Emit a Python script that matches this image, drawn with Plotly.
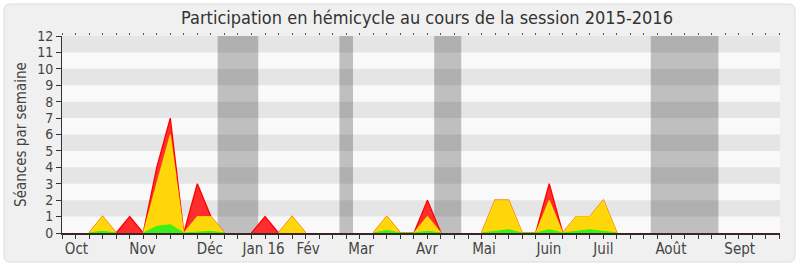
import plotly.graph_objects as go

# ---- data (weekly, session 2015-2016) ----
weeks = list(range(54))
total = [0, 0, 0, 1, 0, 1, 0, 4, 7, 0, 3, 1, 0, 0, 0, 1, 0, 1, 0, 0,
         0, 0, 0, 0, 1, 0, 0, 2, 0, 0, 0, 0, 2, 2, 0, 0, 3, 0, 1, 1,
         2, 0, 0, 0, 0, 0, 0, 0, 0, 0, 0, 0, 0, 0]
yellow = [0, 0, 0, 1, 0, 0, 0, 3, 6, 0, 1, 1, 0, 0, 0, 0, 0, 1, 0, 0,
          0, 0, 0, 0, 1, 0, 0, 1, 0, 0, 0, 0, 2, 2, 0, 0, 2, 0, 1, 1,
          2, 0, 0, 0, 0, 0, 0, 0, 0, 0, 0, 0, 0, 0]
green = [0, 0, 0, 0.1, 0, 0, 0, 0.4, 0.5, 0, 0.05, 0.1, 0, 0, 0, 0, 0, 0, 0, 0,
         0, 0, 0, 0, 0.15, 0, 0, 0.1, 0, 0, 0, 0, 0.12, 0.2, 0, 0, 0.2, 0, 0.1, 0.2,
         0.1, 0, 0, 0, 0, 0, 0, 0, 0, 0, 0, 0, 0, 0]
month_labels = ["Oct", "Nov", "Déc", "Jan 16", "Fév", "Mar", "Avr", "Mai",
                "Juin", "Juil", "Août", "Sept"]
month_pos = [1.07, 5.95, 10.93, 14.89, 18.18, 22.09, 26.97, 31.18,
             35.98, 40.0, 44.99, 50.07]
vacations = [(11.5, 14.5), (20.5, 21.5), (27.5, 29.5), (43.5, 48.5)]
y_ticks = list(range(13))

FONT = "DejaVu Sans Condensed, DejaVu Sans, sans-serif"
W, H = 800, 267
ML, MR, MT, MB = 62, 20, 36, 34
PW, PH = W - ML - MR, H - MT - MB
XMAX = 53.05


def gapped(vals):
    """Keep only the stretches around non-zero weeks (so flat zero runs don't paint the baseline)."""
    n = len(vals)
    out = []
    for i, v in enumerate(vals):
        near = any(vals[j] for j in range(max(0, i - 1), min(n, i + 2)))
        out.append(v if near else None)
    return out


def px_to_paper(px, py):
    return (px - ML) / PW, (H - MB - py) / PH


def rounded_rect(x0, y0, x1, y1, r):
    ax0, ay0 = px_to_paper(x0, y0)
    ax1, ay1 = px_to_paper(x1, y1)
    rx, ry = r / PW, r / PH
    return (f"M {ax0+rx},{ay0} L {ax1-rx},{ay0} Q {ax1},{ay0} {ax1},{ay0-ry} "
            f"L {ax1},{ay1+ry} Q {ax1},{ay1} {ax1-rx},{ay1} "
            f"L {ax0+rx},{ay1} Q {ax0},{ay1} {ax0},{ay1+ry} "
            f"L {ax0},{ay0-ry} Q {ax0},{ay0} {ax0+rx},{ay0} Z")


shapes = []
shapes.append(dict(type="path", xref="paper", yref="paper", layer="below",
                   path=rounded_rect(4, 4, 795, 262, 6),
                   fillcolor="#f0f0f0", line=dict(color="#dcdcdc", width=1)))
shapes.append(dict(type="rect", xref="paper", yref="paper", layer="below",
                   x0=0, x1=1, y0=0, y1=1, fillcolor="#f9f9f9", line=dict(width=0)))
for v in range(1, 12, 2):
    shapes.append(dict(type="rect", xref="paper", yref="y", layer="below",
                       x0=0, x1=1, y0=v, y1=v + 1, fillcolor="#e5e5e5",
                       line=dict(width=0)))
for a, b in vacations:
    shapes.append(dict(type="rect", xref="x", yref="paper", layer="below",
                       x0=a, x1=b, y0=0, y1=1, fillcolor="rgba(20,20,20,0.25)",
                       line=dict(width=0)))

fig = go.Figure()
fig.add_trace(go.Scatter(x=weeks, y=gapped(total), mode="lines", fill="tozeroy",
                         fillcolor="rgba(255,45,45,1)", connectgaps=False,
                         line=dict(color="#ff0000", width=1.3),
                         showlegend=False, hoverinfo="skip"))
fig.add_trace(go.Scatter(x=weeks, y=gapped(yellow), mode="lines", fill="tozeroy",
                         fillcolor="#ffd60a", connectgaps=False,
                         line=dict(color="rgba(255,255,0,0.55)", width=1.3),
                         showlegend=False, hoverinfo="skip"))
fig.add_trace(go.Scatter(x=weeks, y=gapped(green), mode="lines", fill="tozeroy",
                         fillcolor="#3cee1e", connectgaps=False,
                         line=dict(color="#22ff00", width=1),
                         showlegend=False, hoverinfo="skip"))
fig.add_trace(go.Scatter(x=[], y=[], xaxis="x2", showlegend=False, hoverinfo="skip"))
fig.add_trace(go.Scatter(x=[], y=[], xaxis="x3", showlegend=False, hoverinfo="skip"))

fig.update_layout(
    width=W, height=H,
    margin=dict(l=ML, r=MR, t=MT, b=MB, pad=0, autoexpand=False),
    paper_bgcolor="white", plot_bgcolor="rgba(0,0,0,0)",
    font=dict(family=FONT, color="#333333"),
    title=dict(text="Participation en hémicycle au cours de la session 2015-2016",
               x=427 / W, xref="container", y=1 - 18 / H, yref="container",
               xanchor="center", yanchor="middle",
               font=dict(size=18, color="#333333", family=FONT)),
    shapes=shapes,
    xaxis=dict(range=[0, XMAX], tickmode="array", tickvals=month_pos,
               ticktext=month_labels, ticks="outside", ticklen=1,
               tickcolor="rgba(0,0,0,0)", showline=True, linecolor="#3c2424",
               linewidth=1.5, showgrid=False, zeroline=False, automargin=False,
               tickfont=dict(size=15, color="#444444")),
    xaxis2=dict(range=[0, XMAX], overlaying="x", anchor="y", side="bottom",
                tickmode="array", tickvals=weeks, ticks="outside", ticklen=5,
                tickcolor="#333333", showticklabels=False, showline=False,
                showgrid=False, zeroline=False, automargin=False),
    xaxis3=dict(range=[0, XMAX], overlaying="x", anchor="y", side="top",
                tickmode="array", tickvals=weeks, ticks="outside", ticklen=2,
                tickcolor="#555555", showticklabels=False, showline=False,
                showgrid=False, zeroline=False, automargin=False),
    yaxis=dict(range=[0, 12], tickmode="array", tickvals=y_ticks,
               ticks="outside", ticklen=5, tickcolor="#333333",
               showline=True, linecolor="#333333", linewidth=1,
               showgrid=False, zeroline=False, automargin=False,
               tickfont=dict(size=14, color="#444444"),
               title=dict(text="Séances par semaine", standoff=6,
                          font=dict(size=15, color="#444444"))),
)

fig.write_html("out.html")
